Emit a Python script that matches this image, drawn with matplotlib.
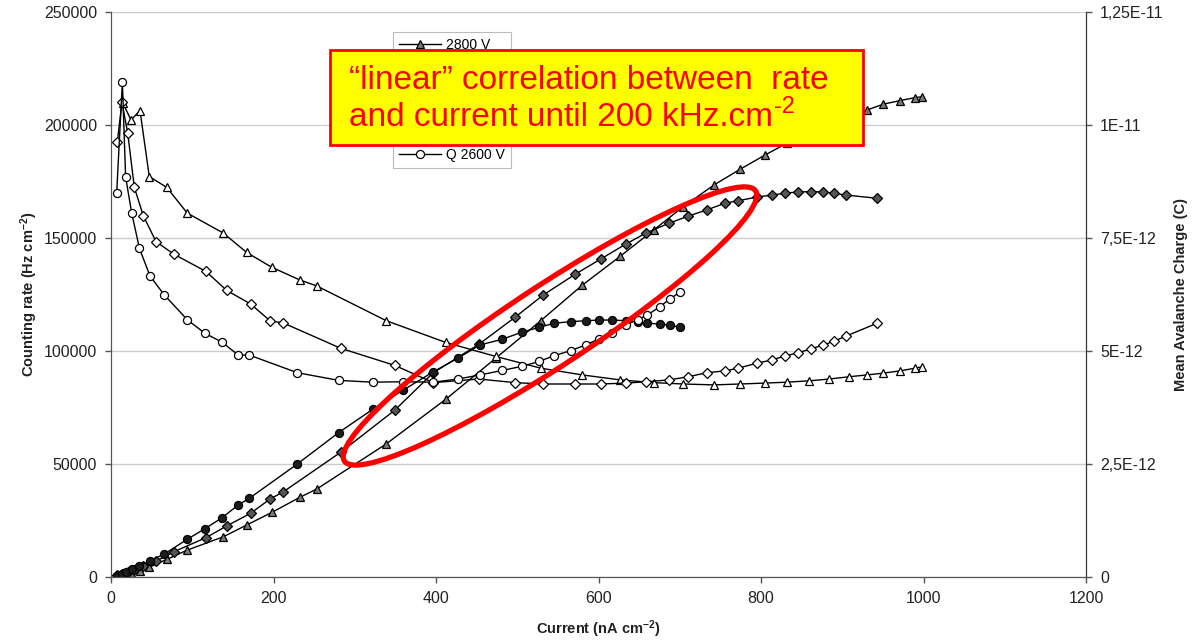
import matplotlib
matplotlib.use("Agg")
import matplotlib.pyplot as plt
from matplotlib.patches import Ellipse, Rectangle

plt.rcParams['font.family'] = ['Liberation Sans', 'DejaVu Sans']
plt.rcParams['mathtext.fontset'] = 'custom'
plt.rcParams['mathtext.rm'] = 'Liberation Sans'
plt.rcParams['mathtext.it'] = 'Liberation Sans:italic'
plt.rcParams['mathtext.bf'] = 'Liberation Sans:bold'

# ---- 2800 V : current (nA/cm2), counting rate (Hz/cm2), mean charge (pC) ----
current_2800 = [14.5, 24.6, 35.7, 47.1, 68.6, 93.9, 138.2, 167.0, 198.1, 232.6,
                253.2, 338.8, 411.9, 473.5, 528.9, 580.3, 627.0, 667.8, 704.4, 742.3,
                774.2, 804.9, 831.6, 859.5, 884.1, 908.3, 930.1, 950.5, 971.1, 989.5,
                997.8]
rate_2800 = [1000, 1800, 2800, 4300, 7800, 11900, 17800, 23000, 28600, 35300,
             38900, 58900, 78600, 96800, 113400, 129200, 142000, 153500, 163900, 173500,
             180400, 186700, 191900, 196500, 200500, 203800, 206600, 209200, 210800, 212100,
             212500]
charge_2800 = [10.49, 10.11, 10.32, 8.86, 8.62, 8.05, 7.61, 7.18, 6.85, 6.57,
               6.44, 5.67, 5.19, 4.88, 4.62, 4.47, 4.36, 4.30, 4.27, 4.25,
               4.27, 4.29, 4.31, 4.34, 4.38, 4.43, 4.47, 4.51, 4.56, 4.62,
               4.65]

# ---- 2700 V ----
current_2700 = [7.8, 13.5, 20.6, 28.7, 39.8, 55.4, 77.5, 116.9, 142.4, 171.9,
                195.7, 212.1, 282.7, 349.5, 396.7, 452.9, 497.2, 532.1, 571.0, 602.8,
                633.6, 658.9, 686.5, 710.5, 733.1, 755.7, 772.1, 794.7, 813.2, 829.5,
                845.9, 861.5, 876.7, 890.2, 904.6, 942.4]
rate_2700 = [700, 1400, 2300, 3300, 4700, 7000, 11200, 17400, 22600, 28200,
             34500, 37700, 55200, 73900, 90400, 103000, 114900, 124800, 133900, 140700,
             147300, 152300, 156500, 159700, 162400, 165400, 166500, 168100, 169000, 169800,
             170400, 170500, 170400, 169800, 169000, 167600]
charge_2700 = [9.63, 10.50, 9.82, 8.62, 7.99, 7.42, 7.14, 6.76, 6.34, 6.04,
               5.67, 5.62, 5.06, 4.68, 4.30, 4.38, 4.30, 4.27, 4.27, 4.27,
               4.29, 4.32, 4.36, 4.43, 4.52, 4.56, 4.62, 4.73, 4.80, 4.89,
               4.96, 5.05, 5.13, 5.22, 5.33, 5.61]

# ---- 2600 V ----
current_2600 = [7.0, 14.0, 18.0, 25.5, 35.0, 48.0, 65.6, 94.0, 115.7, 136.2,
                156.7, 170.2, 229.3, 280.2, 322.1, 359.6, 396.7, 426.8, 454.2, 481.5,
                505.5, 527.1, 545.8, 566.2, 585.0, 601.0, 617.0, 633.6, 648.2, 660.3,
                675.7, 687.5, 700.3]
rate_2600 = [600, 1500, 2300, 3400, 5000, 7100, 10200, 16700, 21400, 26100,
             31900, 34800, 50000, 63900, 74200, 82700, 90800, 96800, 102700, 105200,
             108300, 110500, 112300, 113000, 113400, 113700, 113700, 113400, 113000, 112300,
             111900, 111500, 110500]
charge_2600 = [8.50, 10.95, 8.85, 8.05, 7.27, 6.66, 6.24, 5.69, 5.39, 5.20,
               4.91, 4.91, 4.52, 4.35, 4.31, 4.32, 4.31, 4.38, 4.47, 4.57,
               4.66, 4.77, 4.90, 5.01, 5.14, 5.27, 5.39, 5.58, 5.69, 5.80,
               5.98, 6.15, 6.30]

x_ticks = [0, 200, 400, 600, 800, 1000, 1200]
rate_ticks = [0, 50000, 100000, 150000, 200000, 250000]
charge_ticks = [0, 2.5e-12, 5e-12, 7.5e-12, 1e-11, 1.25e-11]
charge_tick_labels = ['0', '2,5E-12', '5E-12', '7,5E-12', '1E-11', '1,25E-11']

W, H = 1204, 641
fig = plt.figure(figsize=(W / 100, H / 100), dpi=100)
ax = fig.add_axes([111 / W, 1 - 577 / H, (1086 - 111) / W, (577 - 12) / H])
ax2 = ax.twinx()

ax.set_xlim(0, 1200)
ax.set_ylim(0, 250000)
ax2.set_ylim(0, 1.25e-11)

ax.set_xticks(x_ticks)
ax.set_xticklabels([str(v) for v in x_ticks])
ax.set_yticks(rate_ticks)
ax.set_yticklabels([str(v) for v in rate_ticks])
ax2.set_yticks(charge_ticks)
ax2.set_yticklabels(charge_tick_labels)

ax.grid(axis='y', color='#cccccc', lw=1)
ax.set_axisbelow(True)

for a in (ax, ax2):
    a.spines['top'].set_visible(False)
    a.spines['left'].set_color('#555555')
    a.spines['bottom'].set_color('#555555')
    a.spines['right'].set_color('#333333')
    a.tick_params(direction='out', length=4, width=1, colors='#555555',
                  labelcolor='#222222', labelsize=11.5, pad=6)

line_kw = dict(color='black', lw=1.0, mec='black', mew=0.9)

series = [
    (current_2800, rate_2800, charge_2800, '^', '#7a7a7a', '2800 V'),
    (current_2700, rate_2700, charge_2700, 'D', '#555555', '2700 V'),
    (current_2600, rate_2600, charge_2600, 'o', '#1c1c1c', '2600 V'),
]

handles_rate, handles_q = [], []
for cur, rate, q, mk, fc, name in series:
    msz = 4.7 if mk == 'D' else 5.8
    h, = ax.plot(cur, rate, marker=mk, mfc=fc, ms=msz, label=name, **line_kw)
    handles_rate.append(h)
    hq, = ax2.plot(cur, [v * 1e-12 for v in q], marker=mk, mfc='white', ms=msz,
                   label='Q ' + name, **line_kw)
    handles_q.append(hq)

ax.set_xlabel(r'Current (nA cm$^{\mathbf{-2}}$)', fontweight='bold', fontsize=10.5,
              labelpad=9, color='#222222')
ax.set_ylabel(r'Counting rate (Hz cm$^{\mathbf{-2}}$)', fontweight='bold', fontsize=10.5,
              labelpad=3, color='#222222')
ax2.set_ylabel('Mean Avalanche Charge (C)', fontweight='bold', fontsize=10.5,
               labelpad=8, color='#222222')

leg = ax2.legend(handles=handles_rate + handles_q, loc='upper left',
                 bbox_to_anchor=(393 / W, 1 - 32 / H), bbox_transform=fig.transFigure,
                 frameon=True, fancybox=False, edgecolor='#bbbbbb', framealpha=1,
                 fontsize=10, handlelength=3.0, handletextpad=0.35,
                 labelspacing=0.57, borderpad=0.45, borderaxespad=0)
leg.get_frame().set_linewidth(0.8)

# annotation layer in pixel units (y downward)
ov = fig.add_axes([0, 0, 1, 1], zorder=10)
ov.set_xlim(0, W)
ov.set_ylim(H, 0)
ov.axis('off')

ov.add_patch(Rectangle((330, 50), 533, 95, facecolor='#ffff00',
                       edgecolor='#ff0000', lw=2))
ov.text(349, 89, '\u201clinear\u201d correlation between  rate', color='#ff0000',
        fontsize=24, va='baseline', ha='left')
line2 = ov.text(349, 126, 'and current until 200 kHz.cm', color='#ff0000',
                fontsize=24, va='baseline', ha='left')
renderer = fig.canvas.get_renderer()
x_end = line2.get_window_extent(renderer=renderer).x1
ov.text(x_end + 1, 113, '-2', color='#ff0000', fontsize=17,
        va='baseline', ha='left')

ov.add_patch(Ellipse((550, 326), width=492, height=80, angle=-33.3, fill=False,
                     edgecolor='#ff0000', lw=3.8))

fig.savefig('out.png', dpi=100)
